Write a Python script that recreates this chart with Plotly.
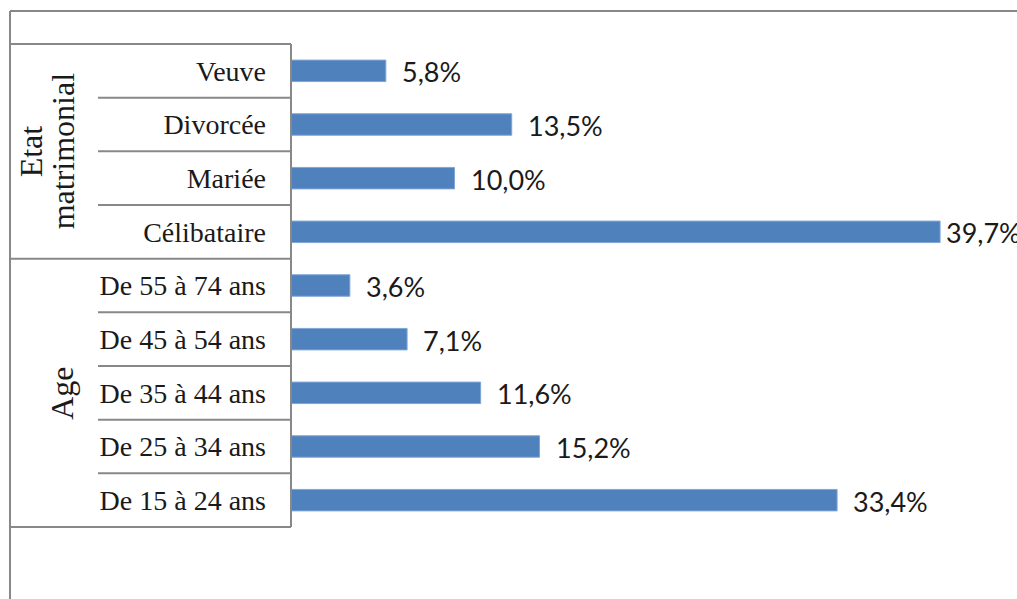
import plotly.graph_objects as go

# Data (bottom to top)
categories = ["De 15 à 24 ans", "De 25 à 34 ans", "De 35 à 44 ans", "De 45 à 54 ans",
              "De 55 à 74 ans", "Célibataire", "Mariée", "Divorcée", "Veuve"]
values = [33.4, 15.2, 11.6, 7.1, 3.6, 39.7, 10.0, 13.5, 5.8]
groups = [["Age"], ["Etat", "matrimonial"]]
group_sizes = [5, 4]

W, H = 1017, 599
L, R, T, B = 291, 0, 44, 599 - 527
PW, PH = W - L - R, H - T - B

def px(x):  # page x -> paper
    return (x - L) / PW

def py(y):  # page y -> paper
    return (H - B - y) / PH

BAR = "#4F81BD"
LINE = "#888888"
SERIF = "Liberation Serif, Times New Roman, serif"
SANS = "Lato, Carlito, Liberation Sans, sans-serif"
group_label_x = [[62], [31, 63]]  # page pixels, style only

fig = go.Figure()
fig.add_trace(go.Bar(
    x=values, y=categories, orientation="h",
    marker=dict(color=BAR, line=dict(color="#7FA6D6", width=1)),
    width=0.4, hoverinfo="skip",
))

xmax = PW / 16.35

annotations = []
for c, v in zip(categories, values):
    annotations.append(dict(
        x=v, y=c, xref="x", yref="y",
        text=f"{v:.1f}".replace(".", ",") + "%",
        showarrow=False, xanchor="left", yanchor="middle",
        xshift=14 if v < 0.85 * xmax else 4, yshift=-1,
        font=dict(family=SANS, size=27, color="#1a1a1a"),
    ))

n = len(categories)
shapes = []
line = dict(color=LINE, width=2)
# outer frame (top and left)
shapes.append(dict(type="line", xref="paper", yref="paper",
                   x0=px(10), x1=px(1040), y0=py(11), y1=py(11), line=line))
shapes.append(dict(type="line", xref="paper", yref="paper",
                   x0=px(10), x1=px(10), y0=py(11), y1=py(620), line=line))
# category box top & bottom
shapes.append(dict(type="line", xref="paper", yref="paper",
                   x0=px(10), x1=0, y0=1, y1=1, line=line))
shapes.append(dict(type="line", xref="paper", yref="paper",
                   x0=px(10), x1=0, y0=0, y1=0, line=line))
# axis line
shapes.append(dict(type="line", xref="paper", yref="paper",
                   x0=0, x1=0, y0=0, y1=1, line=line))
# separators
start = 0
for gi, size in enumerate(group_sizes):
    for k in range(1, size):
        yy = (start + k) / n
        shapes.append(dict(type="line", xref="paper", yref="paper",
                           x0=px(98), x1=0, y0=yy, y1=yy, line=line))
    end = start + size
    if end < n:
        shapes.append(dict(type="line", xref="paper", yref="paper",
                           x0=px(10), x1=0, y0=end / n, y1=end / n, line=line))
    for txt, gx in zip(groups[gi], group_label_x[gi]):
        annotations.append(dict(
            x=px(gx), y=(start + end) / 2 / n, xref="paper", yref="paper",
            text=txt, textangle=-90, showarrow=False,
            xanchor="center", yanchor="middle",
            font=dict(family=SERIF, size=32, color="#1a1a1a"),
        ))
    start = end

fig.update_layout(
    width=W, height=H,
    margin=dict(l=L, r=R, t=T, b=B, pad=0),
    paper_bgcolor="white", plot_bgcolor="white",
    showlegend=False,
    bargap=0.6,
    xaxis=dict(range=[0, xmax], showgrid=False, zeroline=False, showline=False,
               showticklabels=False, ticks="", fixedrange=True),
    yaxis=dict(type="category", categoryorder="array", categoryarray=categories,
               range=[-0.5, n - 0.5], showgrid=False, zeroline=False, showline=False,
               ticks="", ticklabelstandoff=24,
               tickfont=dict(family=SERIF, size=28, color="#1a1a1a"), fixedrange=True),
    shapes=shapes,
    annotations=annotations,
)

fig.write_html("out.html", config={"displayModeBar": False},
               post_script="document.body.style.margin='0';document.body.style.overflow='hidden';")
